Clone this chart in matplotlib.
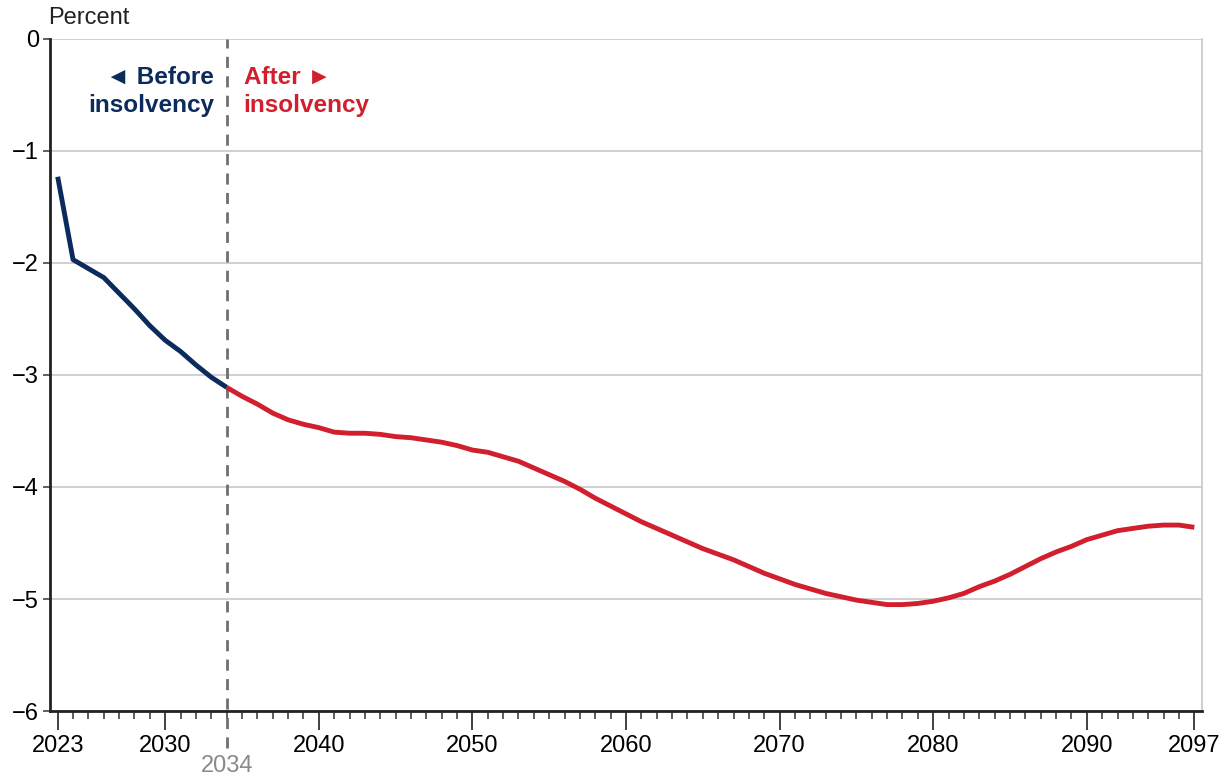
import matplotlib
matplotlib.use('Agg')
import matplotlib.pyplot as plt
import matplotlib.ticker as mticker
import numpy as np

plt.rcParams['font.family'] = ['Liberation Sans', 'DejaVu Sans']

# data (percent)
years = np.arange(2023, 2098)
values = [-1.23, -1.97, -2.05, -2.13, -2.27, -2.41, -2.56, -2.69, -2.79, -2.91,
          -3.02, -3.11, -3.19, -3.26, -3.34, -3.40, -3.44, -3.47, -3.51, -3.52,
          -3.52, -3.53, -3.55, -3.56, -3.58, -3.60, -3.63, -3.67, -3.69, -3.73,
          -3.77, -3.83, -3.89, -3.95, -4.02, -4.10, -4.17, -4.24, -4.31, -4.37,
          -4.43, -4.49, -4.55, -4.60, -4.65, -4.71, -4.77, -4.82, -4.87, -4.91,
          -4.95, -4.98, -5.01, -5.03, -5.05, -5.05, -5.04, -5.02, -4.99, -4.95,
          -4.89, -4.84, -4.78, -4.71, -4.64, -4.58, -4.53, -4.47, -4.43, -4.39,
          -4.37, -4.35, -4.34, -4.34, -4.36]
values = np.array(values)
insolvency_year = 2034
major_years = [2023, 2030, 2040, 2050, 2060, 2070, 2080, 2090, 2097]
y_ticks = [0, -1, -2, -3, -4, -5, -6]

navy = '#0a2b5c'
red = '#d11f2e'
grey = '#6f6f72'

fig = plt.figure(figsize=(12.27, 7.77), dpi=100)
ax = fig.add_axes([50/1227, 1-711/777, (1202-50)/1227, (711-39)/777])

before = years <= insolvency_year
after = years >= insolvency_year
ax.plot(years[after], values[after], color=red, lw=3.5, solid_capstyle='butt', zorder=3)
ax.plot(years[before], values[before], color=navy, lw=3.5, solid_capstyle='butt', zorder=4)

ax.set_xlim(2022.5, 2097.5)
ax.set_ylim(-6, 0)

# grid
ax.set_yticks(y_ticks)
ax.set_yticklabels(['0' if v == 0 else '\u2212%d' % -v for v in y_ticks])
ax.yaxis.grid(True, color='#c4c4c8', lw=1.1)
ax.set_axisbelow(True)

ax.set_xticks(major_years)
ax.set_xticklabels([str(y) for y in major_years])
ax.xaxis.set_minor_locator(mticker.FixedLocator([y for y in years if y not in major_years]))

ax.tick_params(axis='x', which='major', direction='out', length=14, width=1.3,
               color='#333333', labelsize=17, pad=3)
ax.tick_params(axis='x', which='minor', direction='out', length=6, width=1.1, color='#333333')
ax.tick_params(axis='y', which='major', direction='out', length=5, width=1.1,
               color='#333333', labelsize=17, pad=3)

ax.spines['top'].set_visible(False)
ax.spines['right'].set_color('#c4c4c8')
ax.spines['right'].set_linewidth(1.1)
ax.spines['left'].set_linewidth(2)
ax.spines['left'].set_color('#222222')
ax.spines['bottom'].set_linewidth(2)
ax.spines['bottom'].set_color('#222222')

# insolvency marker
ax.axvline(insolvency_year, ymin=-0.055, ymax=1, color=grey, lw=2,
           linestyle=(0, (4, 3)), clip_on=False, zorder=2)
ax.text(insolvency_year, -6.49, str(insolvency_year), color='#8a8a8d', fontsize=17,
        ha='center', va='center')

ax.text(2033.2, -0.47, '\u25c4 Before\ninsolvency', color=navy, fontsize=17.5,
        fontweight='bold', ha='right', va='center', linespacing=1.3)
ax.text(2035.1, -0.47, 'After \u25ba\ninsolvency', color=red, fontsize=17.5,
        fontweight='bold', ha='left', va='center', linespacing=1.3)

fig.text(48/1227, 1-18/777, 'Percent', fontsize=17, ha='left', va='center', color='#222222')

fig.savefig('out.png', dpi=100)
